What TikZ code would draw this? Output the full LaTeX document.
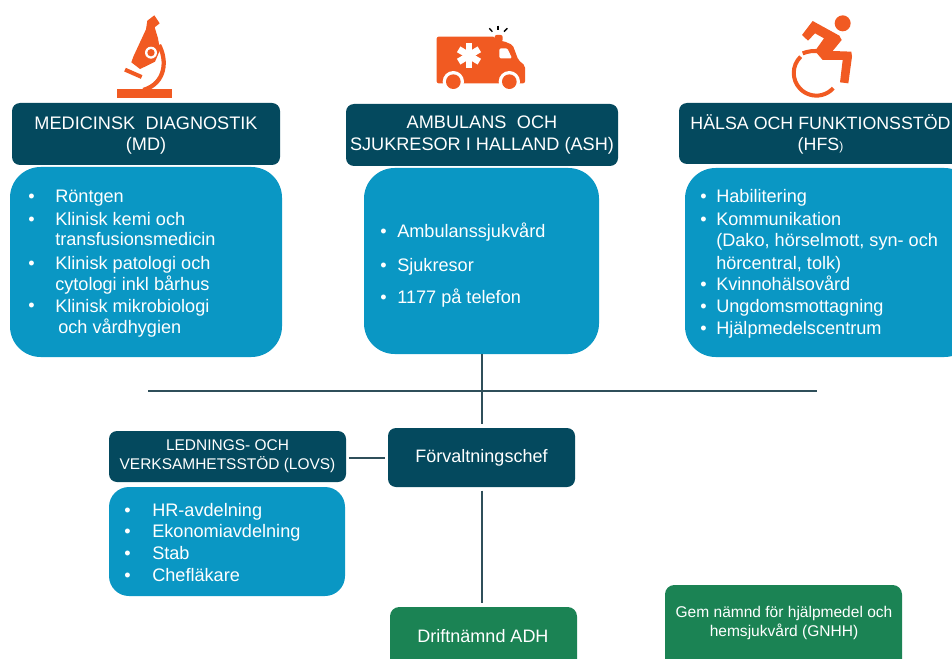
\documentclass[tikz,border=0pt]{standalone}
\usepackage{fontspec}
\setmainfont{Liberation Sans}
\definecolor{hdr}{HTML}{04495E}
\definecolor{bodyblue}{HTML}{0A97C4}
\definecolor{grn}{HTML}{1B8354}
\definecolor{org}{HTML}{F15A22}
\definecolor{lin}{HTML}{2F4F5A}
\tikzset{
  box/.style={rounded corners=#1,draw=none,inner sep=0pt,align=center,text=white},
  hdrbox/.style={box=6pt,fill=hdr},
  bodybox/.style={box=#1,fill=bodyblue},
  bodybox/.default=23pt,
  grnbox/.style={box=7pt,fill=grn},
  bigtxt/.style={text=white,inner sep=0pt,align=center,font=\fontsize{13.6}{16}\selectfont},
  item/.style={anchor=base west,text=white,inner sep=0pt,font=\fontsize{13.6}{15}\selectfont},
  conn/.style={draw=lin,line width=1.5pt},
  ico/.style={fill=org,draw=none}
}
\newcommand{\bx}[7]{\node[#1,minimum width=#4*0.75pt-#3*0.75pt,minimum height=#6*0.75pt-#5*0.75pt] (#2) at ({(#3+#4)/2},{(#5+#6)/2}) {#7};}
\newcommand{\li}[4]{\node[item] (#1) at (#2,#3) {#4};}
\begin{document}
\begin{tikzpicture}[x=0.75pt,y=-0.75pt]
\useasboundingbox (0,0) rectangle (952,659);
% boxes
\bx{hdrbox}{mdh}{12}{280}{103}{165}{}
\node[bigtxt] (mdt) at (146,135.5) {MEDICINSK\hspace{0.3em} DIAGNOSTIK\\(MD)};
\bx{bodybox}{mdb}{10}{282}{167}{357}{}
\bx{hdrbox}{ashh}{346}{618}{104}{166}{}
\node[bigtxt] (asht) at (482,135) {AMBULANS\hspace{0.3em} OCH\\SJUKRESOR I HALLAND (ASH)};
\bx{bodybox}{ashb}{364}{599}{168}{354}{}
\bx{hdrbox}{hfsh}{679}{965}{103}{164}{}
\node[bigtxt,font=\fontsize{13.35}{16}\selectfont] (hfst) at (820.5,134.5) {HÄLSA OCH FUNKTIONSSTÖD\\(HFS{\small)}};
\bx{bodybox}{hfsb}{685}{975}{168}{357}{}
\bx{hdrbox,font=\fontsize{11.6}{14.5}\selectfont}{lovh}{109}{346}{431}{482}{LEDNINGS- OCH\\VERKSAMHETSSTÖD (LOVS)}
\bx{bodybox=15pt}{lovb}{109}{345}{487}{596}{}
\bx{hdrbox,font=\fontsize{13.5}{15}\selectfont}{forv}{388}{575}{428}{487}{Förvaltningschef}
\bx{grnbox}{drift}{390}{577}{607}{680}{}
\node[text=white,inner sep=0pt,font=\fontsize{13.5}{15}\selectfont] (driftt) at (483,636) {Driftnämnd ADH};
\bx{grnbox}{gnhh}{665}{902}{585}{680}{}
\node[text=white,inner sep=0pt,align=center,font=\fontsize{11.65}{14.5}\selectfont] (gnhht) at (784,623) {Gem nämnd för hjälpmedel och\\hemsjukvård (GNHH)};
% MD list
\foreach \n/\y in {a/203,b/225,c/269,d/311}{\node[item] (mdbul\n) at (28,\y) {•};}
\li{md1}{55}{203}{Röntgen}
\li{md2}{55}{225}{Klinisk kemi och}
\li{md3}{55}{246}{transfusionsmedicin}
\li{md4}{55}{269}{Klinisk patologi och}
\li{md5}{55}{290}{cytologi inkl bårhus}
\li{md6}{55}{312}{Klinisk mikrobiologi}
\li{md7}{58}{333}{och vårdhygien}
% ASH list
\foreach \n/\y in {a/238,b/271,c/303}{\node[item] (ashbul\n) at (380,\y) {•};}
\li{as1}{397}{238}{Ambulanssjukvård}
\li{as2}{397}{271}{Sjukresor}
\li{as3}{397}{303}{1177 på telefon}
% HFS list
\foreach \n/\y in {a/203,b/225,c/290,d/312,e/334}{\node[item] (hfsbul\n) at (700,\y) {•};}
\li{hf1}{716}{203}{Habilitering}
\li{hf2}{716}{225}{Kommunikation}
\li{hf3}{716}{247}{(Dako, hörselmott, syn- och}
\li{hf4}{716}{269}{hörcentral, tolk)}
\li{hf5}{716}{290}{Kvinnohälsovård}
\li{hf6}{716}{312}{Ungdomsmottagning}
\li{hf7}{716}{334}{Hjälpmedelscentrum}
% LOVS list
\foreach \n/\y in {a/516,b/537,c/559,d/581}{\node[item] (lovbul\n) at (124,\y) {•};}
\li{lo1}{152}{516}{HR-avdelning}
\li{lo2}{152}{537}{Ekonomiavdelning}
\li{lo3}{152}{559}{Stab}
\li{lo4}{152}{581}{Chefläkare}
% connectors
\coordinate (hl) at (148,391);
\coordinate (hr) at (817,391);
\draw[conn] (hl) -- (hr);
\draw[conn,shorten >=3pt] (ashb.south) -- (ashb.south |- forv.north);
\draw[conn,shorten <=2pt,shorten >=2pt] (lovh.east |- forv.west) -- (forv.west);
\draw[conn,shorten <=2.5pt,shorten >=3pt] (forv.south) -- (forv.south |- drift.north);
% microscope
\begin{scope}[shift={(90,0)},x=0.25pt,y=-0.25pt]
\fill[ico] (80,268) -- (245,268) -- (245,293) -- (80,293) -- cycle;
\fill[ico] (172,62) -- (193,46) -- (209,70) -- (194,82) -- (204,115) -- (210,150) -- (195,185) -- (165,200) -- (150,207) -- (124,187) -- (130,170) -- (168,88) -- cycle;
\fill[white] (183,158) circle (18);
\fill[ico] (183,158) circle (11);
\draw[org,line width=3.2pt] (207,135) .. controls (232,180) and (228,250) .. (160,270);
\draw[org,line width=3pt] (105,209) -- (155,231);
\end{scope}
% ambulance
\begin{scope}[shift={(420,15)},x=0.25pt,y=-0.25pt]
\fill[ico,rounded corners=1.5pt] (50,65) -- (225,65) -- (225,78) -- (250,78) -- (278,90) -- (295,135) -- (315,152) -- (315,205) -- (50,205) -- cycle;
\fill[ico,rounded corners=1.5pt] (224,80) -- (224,60) -- (248,60) -- (248,80) -- cycle;
\fill[white] (100,200) circle (32);
\fill[white] (268,200) circle (32);
\fill[ico] (100,200) circle (22);
\fill[ico] (268,200) circle (22);
\fill[white,rounded corners=1pt] (238,100) -- (262,100) -- (276,130) -- (238,130) -- cycle;
\draw[white,line width=5pt] (147,85) -- (147,158);
\draw[white,line width=5pt] (116,103) -- (178,140);
\draw[white,line width=5pt] (116,140) -- (178,103);
\draw[black,line width=1pt] (234,32) -- (234,46);
\draw[black,line width=1pt] (208,40) -- (217,50);
\draw[black,line width=1pt] (262,40) -- (252,50);
\end{scope}
% wheelchair
\begin{scope}[shift={(780,5)},x=0.25pt,y=-0.25pt]
\fill[ico] (188,55) circle (24);
\fill[ico] (66,90) -- (98,48) -- (178,92) -- (185,105) -- (158,138) -- (214,140) -- (216,155) -- (205,235) -- (180,232) -- (188,165) -- (128,165) -- (105,138) -- (132,100) -- (105,85) -- (84,107) -- cycle;
\draw[org,line width=3pt] (62,155) arc[start angle=226,end angle=42,radius=68];
\draw[org,line width=3pt] (68,145) .. controls (100,132) and (140,137) .. (165,160);
\end{scope}
\end{tikzpicture}
\end{document}
